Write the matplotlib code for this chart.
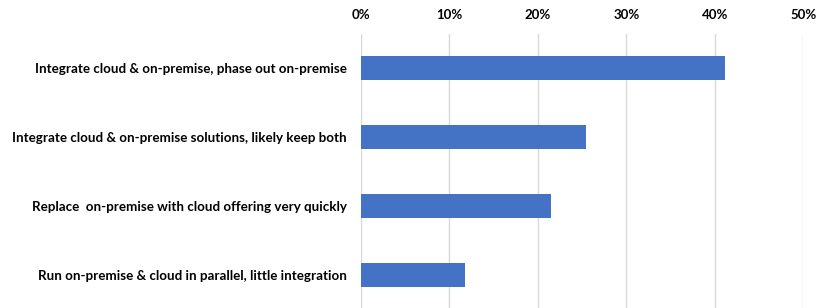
import matplotlib.pyplot as plt
from matplotlib.ticker import PercentFormatter

# Données du graphique
categories = [
    "Integrate cloud & on-premise, phase out on-premise",
    "Integrate cloud & on-premise solutions, likely keep both",
    "Replace  on-premise with cloud offering very quickly",
    "Run on-premise & cloud in parallel, little integration",
]
valeurs = [41.2, 25.5, 21.5, 11.8]
ticks_x = [0, 10, 20, 30, 40, 50]

plt.rcParams['font.family'] = ['Lato', 'DejaVu Sans']

fig = plt.figure(figsize=(8.17, 3.08), dpi=100)
ax = fig.add_axes([0.4415, -0.005, 0.5417, 0.896])

positions = list(range(len(categories)))
ax.barh(positions, valeurs, height=0.35, color='#4472C4', zorder=3)

ax.set_ylim(len(categories) - 0.5, -0.5)
ax.set_xlim(0, 50)
ax.set_xticks(ticks_x)
ax.xaxis.set_major_formatter(PercentFormatter(decimals=0))
ax.xaxis.tick_top()
ax.set_yticks(positions)
ax.set_yticklabels(categories)

ax.tick_params(axis='x', length=0, pad=9, labelsize=9.5)
ax.tick_params(axis='y', length=0, pad=10, labelsize=9.65)
for lab in ax.get_xticklabels() + ax.get_yticklabels():
    lab.set_fontweight('bold')

ax.grid(True, axis='x', color='#d9d9d9', linewidth=1, zorder=0)
for s in ax.spines.values():
    s.set_visible(False)

fig.savefig('out.png', dpi=100)
